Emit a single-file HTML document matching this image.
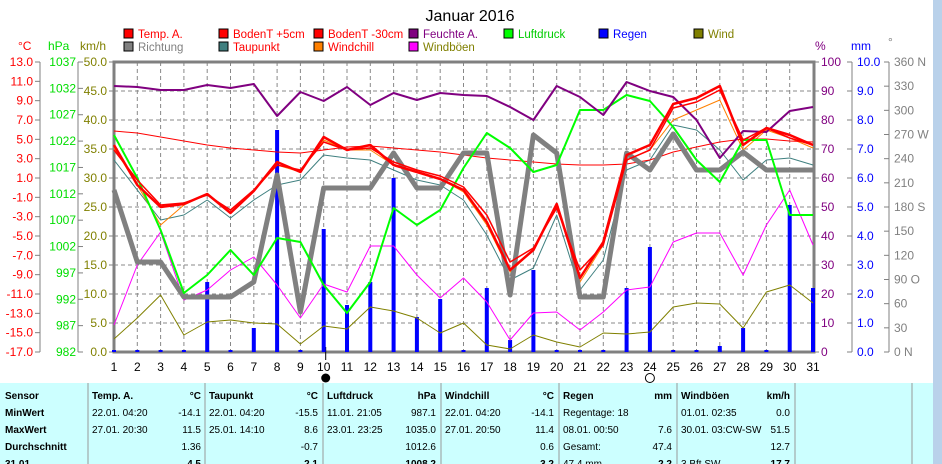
<!DOCTYPE html>
<html><head><meta charset="utf-8"><style>
body{margin:0;background:#fff;width:942px;height:464px;overflow:hidden;font-family:"Liberation Sans",sans-serif}
svg{position:absolute;left:0;top:0}
</style></head><body>
<svg id="s" width="942" height="464" xmlns="http://www.w3.org/2000/svg" font-family="Liberation Sans, sans-serif" font-size="12"></svg>
<script>
const s=document.getElementById('s');let h='';
const X=d=>114+(d-1)*23.3;
h+='<rect x="933" y="0" width="9" height="464" fill="#b9d1ea"/>';
h+='<text x="470" y="21" font-size="16" text-anchor="middle">Januar 2016</text>';
for(let d=2;d<=30;d++)h+=`<line x1="${X(d)}" y1="62" x2="${X(d)}" y2="352" stroke="#888" stroke-dasharray="4,3"/>`;
for(let i=1;i<10;i++){let y=62+i*29;h+=`<line x1="114" y1="${y}" x2="814" y2="${y}" stroke="#888" stroke-dasharray="4,3"/>`;}
h+='<rect x="114" y="62" width="700" height="290" fill="none" stroke="#808080" stroke-width="3"/>';
h+='<line x1="40" y1="62" x2="40" y2="352" stroke="#808080"/><line x1="78" y1="62" x2="78" y2="352" stroke="#808080"/>';
for(let i=0;i<16;i++){let y=62+i*290/15,v=(13-2*i).toFixed(1);h+=`<line x1="35" y1="${y}" x2="40" y2="${y}" stroke="#808080"/><text x="33" y="${y+4}" fill="#f00" text-anchor="end">${v}</text>`;}
for(let i=0;i<12;i++){let y=62+i*290/11,v=1037-5*i;h+=`<line x1="78" y1="${y}" x2="83" y2="${y}" stroke="#808080"/><text x="76" y="${y+4}" fill="#0d0" text-anchor="end">${v}</text>`;}
for(let i=0;i<11;i++){let y=62+i*29,v=(50-5*i).toFixed(1);h+=`<line x1="109" y1="${y}" x2="114" y2="${y}" stroke="#808080"/><text x="107" y="${y+4}" fill="#808000" text-anchor="end">${v}</text>`;}
h+='<text x="18" y="50" fill="#f00">°C</text><text x="48" y="50" fill="#0d0">hPa</text><text x="80" y="50" fill="#808000">km/h</text>';
h+='<line x1="852" y1="62" x2="852" y2="352" stroke="#808080"/><line x1="889" y1="62" x2="889" y2="352" stroke="#808080"/>';
for(let i=0;i<11;i++){let y=62+i*29;h+=`<line x1="814" y1="${y}" x2="819" y2="${y}" stroke="#808080"/><text x="821" y="${y+4}" fill="#800080">${100-10*i}</text>`;
h+=`<line x1="847" y1="${y}" x2="852" y2="${y}" stroke="#808080"/><text x="857" y="${y+4}" fill="#00f">${(10-i).toFixed(1)}</text>`;}
const dl={0:'N',3:'W',6:'S',9:'O',12:'N'};
for(let i=0;i<13;i++){let y=62+i*290/12;h+=`<line x1="884" y1="${y}" x2="889" y2="${y}" stroke="#808080"/><text x="894" y="${y+4}" fill="#808080">${360-30*i}${dl[i]!==undefined?' '+dl[i]:''}</text>`;}
h+='<text x="815" y="50" fill="#800080">%</text><text x="851" y="50" fill="#00f">mm</text><text x="888" y="46" fill="#808080">°</text>';
for(let d=1;d<=31;d++)h+=`<text x="${X(d)}" y="371" text-anchor="middle">${d}</text>`;
h+=`<line x1="${X(10)+2}" y1="347" x2="${X(10)+2}" y2="360" stroke="#000"/><circle cx="${X(10)+2}" cy="378" r="4.5" fill="#000"/><circle cx="${X(24)}" cy="378" r="4.5" fill="#fff" stroke="#000"/>`;
const L=[[123,38,'#f00','Temp. A.','#f00'],[218,38,'#f00','BodenT +5cm','#f00'],[313,38,'#f00','BodenT -30cm','#f00'],[408,38,'#800080','Feuchte A.','#800080'],[503,38,'#0f0','Luftdruck','#0c0'],[598,38,'#00f','Regen','#00f'],[693,38,'#808000','Wind','#808000'],
[123,51,'#808080','Richtung','#808080'],[218,51,'#408080','Taupunkt','#f00'],[313,51,'#ff8000','Windchill','#f00'],[408,51,'#f0f','Windböen','#808000']];
L.forEach(l=>{h+=`<rect x="${l[0]+1}" y="${l[1]-9}" width="9" height="9" fill="${l[2]}" stroke="#000"/><text x="${l[0]+15}" y="${l[1]}" font-size="11.5" fill="${l[4]}">${l[3]}</text>`});
const R={5:282,7:328,8:130,10:229,11:305,12:282,13:178,14:317,15:299,17:288,18:340,19:270,23:288,24:247,27:346,28:328,30:205,31:288};
for(let d=1;d<=31;d++){let y=R[d]||350;h+=`<rect x="${X(d)-2}" y="${y}" width="4" height="${352-y}" fill="#00f"/>`;}
const P=(a,c,w)=>{h+=`<polyline fill="none" stroke="${c}" stroke-width="${w}" stroke-linejoin="round" points="${a.map((y,i)=>X(i+1)+','+y).join(' ')}"/>`};
P([339,318,295,335,322,320,323,324,344,326,329,307,311,318,333,323,345,349,335,342,347,333,334,332,307,303,304,328,292,285,303],'#808000',1);
P([325,265,232,300,290,270,257,285,318,284,292,246,246,275,298,278,302,340,313,312,330,312,290,287,242,233,233,275,225,190,245],'#f0f',1);
P([160,190,220,215,200,218,200,185,180,155,158,160,170,180,185,200,235,280,268,215,290,260,170,160,125,130,150,180,160,158,165],'#408080',1);
P([148,185,225,205,194,213,191,165,172,140,150,150,165,172,179,192,225,272,250,205,282,245,160,150,120,110,100,150,130,138,148],'#ff8000',1);
P([131,133,137,141,145,148,150,152,153,150,147,146,148,150,152,155,158,160,162,164,165,165,164,160,152,147,142,139,139,141,142],'#f00',1);
P([190,262,262,297,297,297,282,175,312,188,188,188,153,188,188,153,153,295,135,153,297,297,153,170,134,170,170,152,170,170,170],'#808080',5);
P([135,178,230,293,275,250,275,238,242,285,313,282,208,225,210,168,133,148,172,165,110,110,95,101,127,160,182,140,140,215,215],'#0f0',2);
P([86,87,90,90,85,88,84,116,92,101,87,105,93,100,93,95,96,107,120,86,97,115,82,91,97,120,158,131,132,111,107],'#800080',2);
P([150,180,205,203,195,210,190,165,170,142,150,148,162,170,176,187,215,262,248,208,270,245,160,150,108,102,90,140,128,138,145],'#f00',1.5);
P([145,185,207,204,194,213,191,162,172,137,150,145,165,172,179,190,222,270,250,204,278,242,155,145,104,98,86,145,128,135,145],'#f00',2.5);
h+='<rect x="0" y="383" width="933" height="81" fill="#ccffff"/>';
[88,205,323,441,559,677,795,912].forEach(x=>h+=`<line x1="${x}" y1="383" x2="${x}" y2="464" stroke="#999"/>`);
const rows=['Sensor','MinWert','MaxWert','Durchschnitt','31.01.'];
rows.forEach((r,i)=>h+=`<text x="5" y="${399+i*17}" font-size="10" font-weight="bold">${r}</text>`);
const cols=[[92,'Temp. A.','°C',['22.01. 04:20','-14.1'],['27.01. 20:30','11.5'],['','1.36'],['','4.5']],
[209,'Taupunkt','°C',['22.01. 04:20','-15.5'],['25.01. 14:10','8.6'],['','-0.7'],['','2.1']],
[327,'Luftdruck','hPa',['11.01. 21:05','987.1'],['23.01. 23:25','1035.0'],['','1012.6'],['','1008.2']],
[445,'Windchill','°C',['22.01. 04:20','-14.1'],['27.01. 20:50','11.4'],['','0.6'],['','3.2']],
[563,'Regen','mm',['Regentage: 18',''],['08.01. 00:50','7.6'],['Gesamt:','47.4'],['47.4 mm','2.2']],
[681,'Windböen','km/h',['01.01. 02:35','0.0'],['30.01. 03:CW-SW','51.5'],['','12.7'],['3 Bft SW','17.7']]];
cols.forEach(c=>{let x=c[0],r=x+109;h+=`<text x="${x}" y="399" font-size="10" font-weight="bold">${c[1]}</text><text x="${r}" y="399" font-size="10" font-weight="bold" text-anchor="end">${c[2]}</text>`;
for(let i=0;i<4;i++){let y=416+i*17,b=i==3?' font-weight="bold"':'';h+=`<text x="${x}" y="${y}" font-size="10">${c[3+i][0]}</text><text x="${r}" y="${y}" font-size="10" text-anchor="end"${b}>${c[3+i][1]}</text>`;}});
s.innerHTML=h;
</script>
</body></html>
